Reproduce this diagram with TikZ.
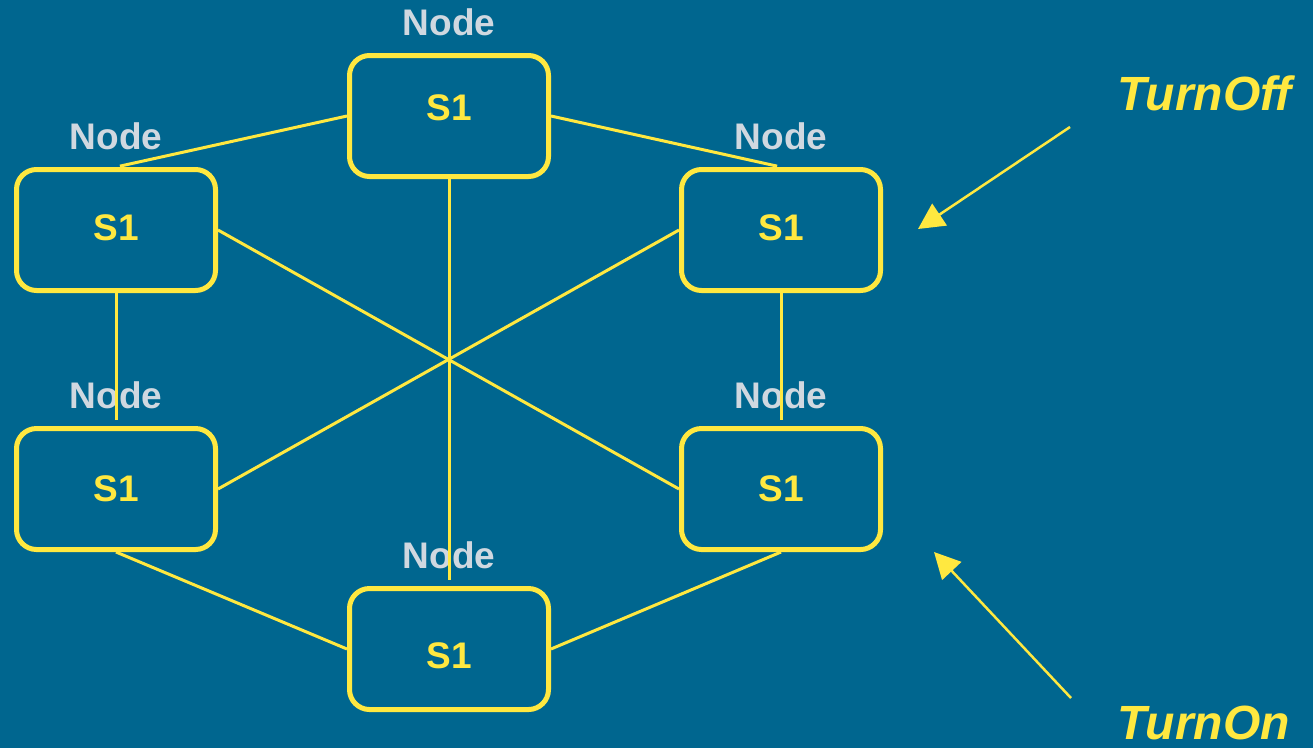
\documentclass[tikz,border=0pt]{standalone}
\usepackage{fontspec}
\setmainfont{Liberation Sans}
\usepackage{tikz}
\usetikzlibrary{arrows.meta,positioning}
\definecolor{SlideBlue}{RGB}{0,102,143}
\definecolor{SlideYellow}{RGB}{255,232,64}
\definecolor{LabelGray}{RGB}{208,216,224}

\begin{document}
\begin{tikzpicture}[x=1pt, y=-1pt,
                    every node/.append style={font=\fontsize{37}{40}\selectfont\bfseries},
                    box/.style={draw=SlideYellow, line width=5pt, rounded corners=20pt,
                                minimum width=199pt, minimum height=121pt,
                                text=SlideYellow,
                                label={[nodelbl]above:Node}},
                    nodelbl/.style={text=LabelGray, inner sep=0pt, text depth=0pt,
                                    label distance=17pt},
                    link/.style={draw=SlideYellow, line width=3pt},
                    hint/.style={draw=SlideYellow, line width=2.5pt,
                                 -{Triangle[length=26pt,width=26pt]}, fill=SlideYellow},
                    cue/.style={text=SlideYellow, inner sep=0pt,
                                font=\fontsize{48}{52}\selectfont\bfseries\itshape}
                    ]
\path[use as bounding box, fill=SlideBlue] (0,0) rectangle (1313,748);

\node[box, text depth=16pt]  (top) at (449,116) {S1};
\node[box, text depth=4pt]   (lu)  at (116,230) {S1};
\node[box, text depth=4pt]   (ru)  at (781,230) {S1};
\node[box]                   (ll)  at (116,489) {S1};
\node[box]                   (rl)  at (781,489) {S1};
\node[box, text height=39pt] (bot) at (449,649) {S1};

\path[link]
    (top.west)  edge[shorten >=4pt]  (lu.north)
    (top.east)  edge[shorten >=4pt]  (ru.north)
    (top.south) edge[shorten >=6pt]  (bot.north)
    (lu.east)   edge                 (rl.west)
    (ru.west)   edge                 (ll.east)
    (lu.south)  edge[shorten >=6pt]  (ll.north)
    (ru.south)  edge[shorten >=6pt]  (rl.north)
    (ll.south)  edge                 (bot.west)
    (rl.south)  edge                 (bot.east);

% switching hints
\node[cue, anchor=base west] (off) at (1117,110) {TurnOff};
\node[cue, anchor=base west] (on)  at (1117,739) {TurnOn};
\coordinate (offtail) at (1070,127);
\coordinate (offtip)  at (918,229);
\coordinate (ontail)  at (1071,698);
\coordinate (ontip)   at (934,552);
\draw[hint] (offtail) -- (offtip);
\draw[hint] (ontail) -- (ontip);
\end{tikzpicture}
\end{document}
